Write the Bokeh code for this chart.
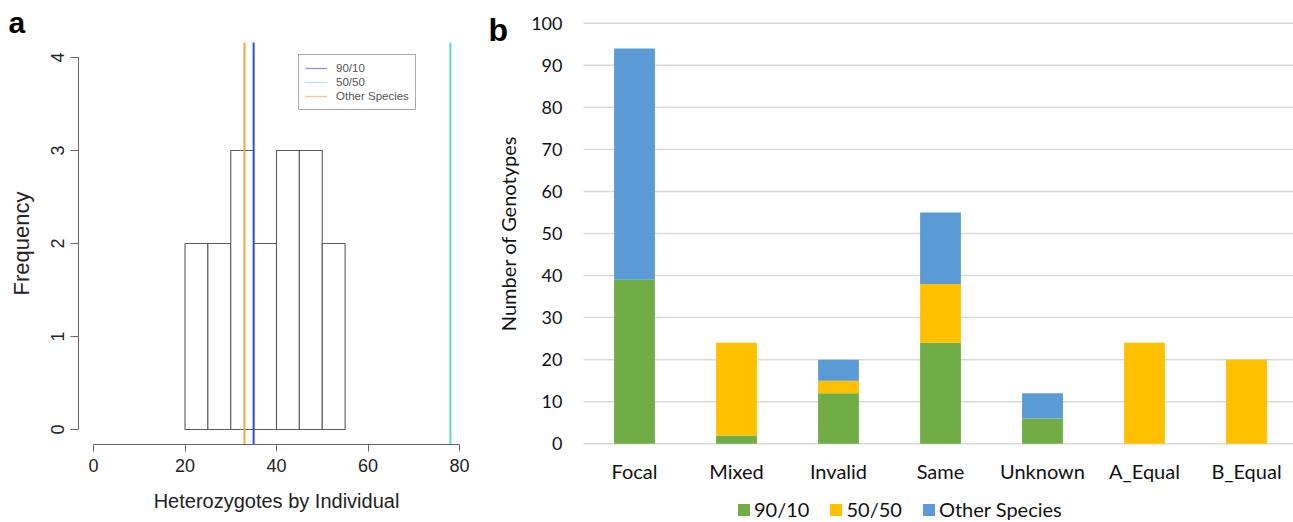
import math
from bokeh.plotting import figure
from bokeh.models import (Range1d, FixedTicker, Legend, LegendItem, Label,
                          ColumnDataSource)
from bokeh.layouts import row
from bokeh.embed import file_html
from bokeh.resources import INLINE

# ---------------- data: panel a (histogram) ----------------
bin_edges = [20, 25, 30, 35, 40, 45, 50, 55]
bin_counts = [2, 2, 3, 2, 3, 3, 2]
line_labels = ["90/10", "50/50", "Other Species"]
line_values = [35, 78, 33]
line_colors = ["#2f4fd8", "#5fd9d9", "#f4a640"]
legend_colors = ["#8f8fe8", "#a8e6e6", "#f6c98a"]
a_xticks = [0, 20, 40, 60, 80]
a_yticks = [0, 1, 2, 3, 4]

# ---------------- data: panel b (stacked bars) ----------------
categories = ["Focal", "Mixed", "Invalid", "Same", "Unknown", "A_Equal", "B_Equal"]
series = ["90/10", "50/50", "Other Species"]
v_90_10 = [39, 2, 12, 24, 6, 0, 0]
v_50_50 = [0, 22, 3, 14, 0, 24, 20]
v_other = [55, 0, 5, 17, 6, 0, 0]
series_colors = ["#70ad47", "#ffc000", "#5b9bd5"]
b_yticks = [0, 10, 20, 30, 40, 50, 60, 70, 80, 90, 100]

H = 522

# ================= panel a =================
WA = 480
ax_px = 4.575          # pixels per x unit
ay_px = 93.0           # pixels per y unit
ax_zero = 93.0         # pixel x of value 0
ay_zero = 429.0        # pixel y (from top) of value 0
xa0 = -ax_zero / ax_px
ya0 = -(H - ay_zero) / ay_px
pa = figure(width=WA, height=H,
            x_range=Range1d(xa0, xa0 + WA / ax_px),
            y_range=Range1d(ya0, ya0 + H / ay_px),
            output_backend="svg", toolbar_location=None, min_border=0)
pa.outline_line_color = None
pa.grid.visible = False

# R-style plot region (4% padding)
ax_pad = 0.04 * (a_xticks[-1] - a_xticks[0])
ay_pad = 0.04 * (a_yticks[-1] - a_yticks[0])

hist_src = ColumnDataSource(dict(left=bin_edges[:-1], right=bin_edges[1:],
                                 top=bin_counts, bottom=[0] * len(bin_counts)))
pa.quad(left="left", right="right", top="top", bottom="bottom", source=hist_src,
        fill_color="white", line_color="#5a5a5a", line_width=1.1)

vsrc = ColumnDataSource(dict(x=line_values, y0=[a_yticks[0] - ay_pad] * 3,
                             y1=[a_yticks[-1] + ay_pad] * 3, c=line_colors))
pa.segment(x0="x", x1="x", y0="y0", y1="y1", line_color="c", line_width=2, source=vsrc)

leg_items = []
for lab, col in zip(line_labels, legend_colors):
    r = pa.line(x=[math.nan, math.nan], y=[math.nan, math.nan], line_color=col, line_width=1.3)
    leg_items.append(LegendItem(label=lab, renderers=[r]))
leg_a = Legend(items=leg_items, location=(298, H - 110), orientation="vertical",
               label_text_font="Liberation Sans", label_text_font_size="11.5px",
               label_text_color="#555555", glyph_width=22, glyph_height=14,
               label_height=14, label_standoff=9, spacing=0, padding=6, margin=0,
               border_line_color="#555555", border_line_width=1,
               background_fill_color="white", background_fill_alpha=1)
pa.add_layout(leg_a)

for axis in (pa.xaxis, pa.yaxis):
    axis.axis_line_color = "#666666"
    axis.major_tick_line_color = "#666666"
    axis.minor_tick_line_color = None
    axis.major_tick_in = 0
    axis.major_label_text_font = "Liberation Sans"
    axis.major_label_text_font_size = "18px"
    axis.major_label_text_color = "#222222"
    axis.axis_label_text_font = "Liberation Sans"
    axis.axis_label_text_font_style = "normal"
    axis.axis_label_text_color = "#222222"

pa.xaxis.fixed_location = a_yticks[0] - ay_pad
pa.xaxis.ticker = FixedTicker(ticks=a_xticks)
pa.xaxis.bounds = (a_xticks[0], a_xticks[-1])
pa.xaxis.major_tick_out = 7
pa.xaxis.major_label_standoff = 8
pa.xaxis.axis_label = "Heterozygotes by Individual"
pa.xaxis.axis_label_text_font_size = "20px"
pa.xaxis.axis_label_standoff = 14

pa.yaxis.fixed_location = a_xticks[0] - ax_pad
pa.yaxis.ticker = FixedTicker(ticks=a_yticks)
pa.yaxis.bounds = (a_yticks[0], a_yticks[-1])
pa.yaxis.major_tick_out = 8
pa.yaxis.major_label_standoff = 7
pa.yaxis.major_label_orientation = "vertical"
pa.yaxis.axis_label = "Frequency"
pa.yaxis.axis_label_text_font_size = "22px"
pa.yaxis.axis_label_standoff = 14

pa.add_layout(Label(x=8, y=H - 22, x_units="screen", y_units="screen", text="a",
                    text_font="Liberation Sans", text_font_style="bold",
                    text_font_size="30px", text_color="black",
                    text_baseline="alphabetic"))

# ================= panel b =================
WB = 813
slot_px = 102.0
first_center = 154.0      # pixel x (in panel b) of first category centre
by_px = 4.206
by_zero = 443.3
xs = list(range(len(categories)))
xb0 = -first_center / slot_px
yb0 = -(H - by_zero) / by_px
pb = figure(width=WB, height=H,
            x_range=Range1d(xb0, xb0 + WB / slot_px),
            y_range=Range1d(yb0, yb0 + H / by_px),
            output_backend="svg", toolbar_location=None, min_border=0)
pb.outline_line_color = None
pb.grid.visible = False

gsrc = ColumnDataSource(dict(y=b_yticks, x0=[xs[0] - 0.5] * len(b_yticks),
                             x1=[xs[-1] + 0.5] * len(b_yticks)))
pb.segment(x0="x0", x1="x1", y0="y", y1="y", source=gsrc,
           line_color="#d9d9d9", line_width=1.5)

src = ColumnDataSource(dict(x=xs, s1=v_90_10, s2=v_50_50, s3=v_other))
rs = pb.vbar_stack(["s1", "s2", "s3"], x="x", width=0.4, source=src,
                   fill_color=series_colors, line_color=None)

leg_b = Legend(items=[LegendItem(label=s, renderers=[r]) for s, r in zip(series, rs)],
               location=(256, 1), orientation="horizontal",
               label_text_font="Lato", label_text_font_size="20px",
               label_text_color="#111111", glyph_width=15, glyph_height=15,
               label_height=15, label_standoff=3, spacing=19, padding=0, margin=0,
               border_line_color=None, background_fill_alpha=0)
pb.add_layout(leg_b)

pb.xaxis.fixed_location = b_yticks[0]
pb.xaxis.ticker = FixedTicker(ticks=xs)
pb.xaxis.major_label_overrides = {i: c for i, c in zip(xs, categories)}
pb.yaxis.fixed_location = xs[0] - 0.5
pb.yaxis.ticker = FixedTicker(ticks=b_yticks)
pb.yaxis.bounds = (b_yticks[0], b_yticks[-1])
for axis in (pb.xaxis, pb.yaxis):
    axis.axis_line_color = None
    axis.major_tick_line_color = None
    axis.minor_tick_line_color = None
    axis.major_tick_in = 0
    axis.major_tick_out = 0
    axis.major_label_text_font = "Lato"
    axis.major_label_text_color = "#111111"
pb.xaxis.major_label_text_font_size = "20px"
pb.yaxis.major_label_text_font_size = "18px"
pb.xaxis.major_label_standoff = 15
pb.yaxis.major_label_standoff = 21
pb.yaxis.axis_label = "Number of Genotypes"
pb.yaxis.axis_label_text_font = "Lato"
pb.yaxis.axis_label_text_font_size = "20px"
pb.yaxis.axis_label_text_font_style = "normal"
pb.yaxis.axis_label_text_color = "#111111"
pb.yaxis.axis_label_standoff = 8

pb.add_layout(Label(x=8, y=H - 29, x_units="screen", y_units="screen", text="b",
                    text_font="Liberation Sans", text_font_style="bold",
                    text_font_size="32px", text_color="black",
                    text_baseline="alphabetic"))

layout = row(pa, pb)
open("out.html", "w").write(file_html(layout, INLINE))
